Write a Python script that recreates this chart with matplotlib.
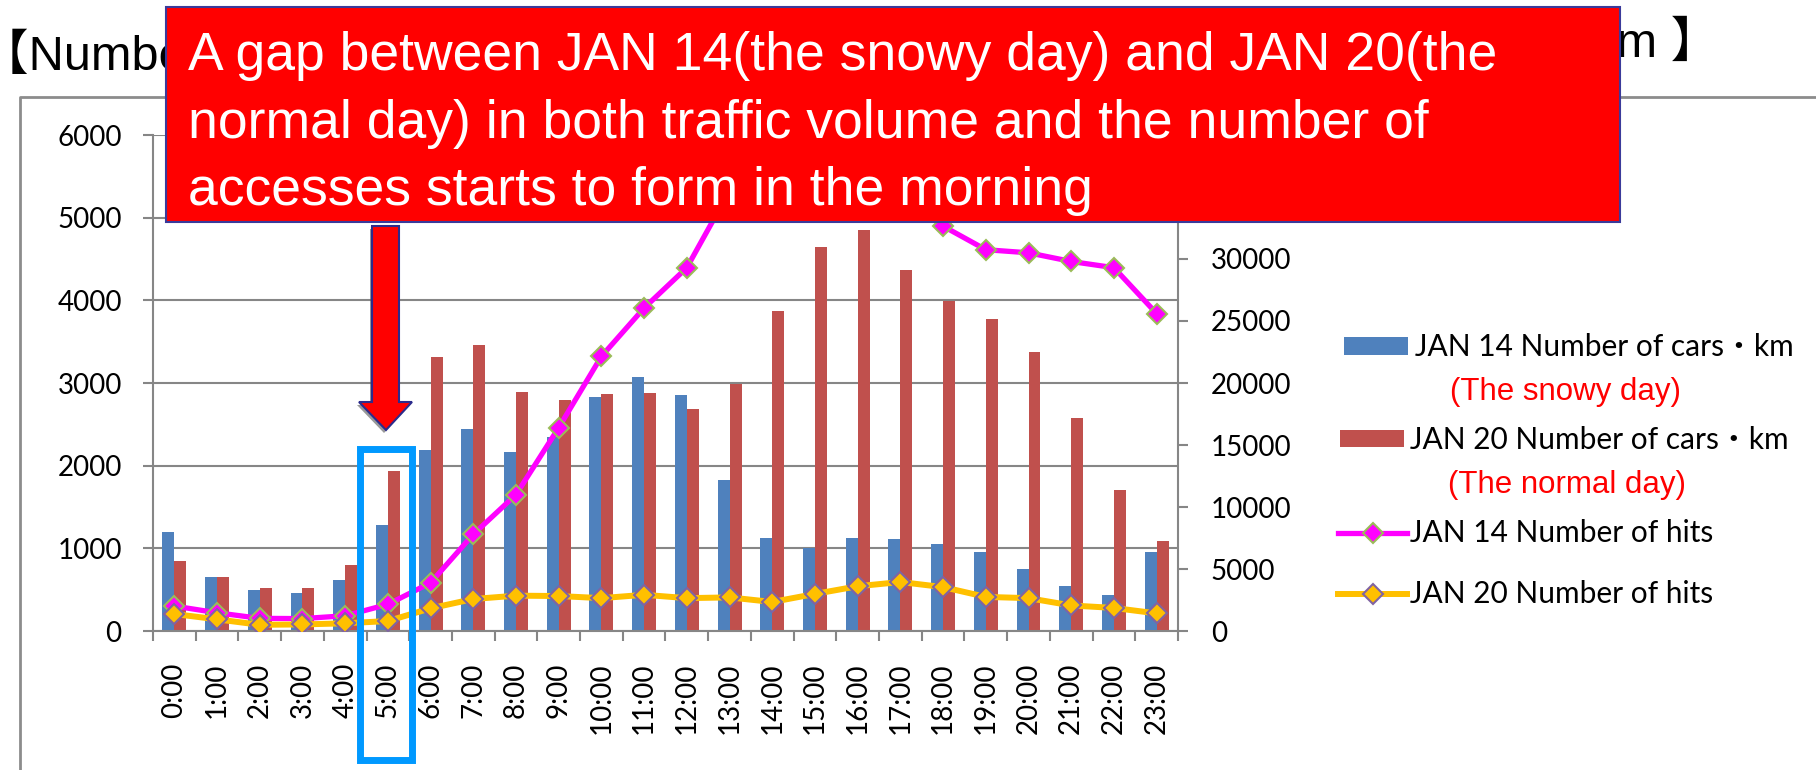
import matplotlib
matplotlib.use("Agg")
import matplotlib.pyplot as plt
from matplotlib.patches import Rectangle, Polygon
from matplotlib.lines import Line2D
import numpy as np

# hourly data, JAN 14 (snowy day) vs JAN 20 (normal day)
hours = [f"{h}:00" for h in range(24)]
cars_jan14 = [1200, 650, 490, 455, 620, 1280, 2195, 2440, 2165, 2350, 2835, 3070,
              2860, 1830, 1130, 1000, 1130, 1115, 1050, 960, 745, 540, 435, 960]
cars_jan20 = [845, 650, 520, 520, 795, 1940, 3310, 3465, 2890, 2800, 2870, 2875,
              2685, 2990, 3865, 4640, 4850, 4370, 3990, 3780, 3370, 2575, 1705, 1090]
hits_jan14 = [2010, 1470, 1020, 1000, 1230, 2150, 3890, 7800, 11000, 16400, 22150, 26050,
              29300, 35500, 37500, 38500, 38000, 35500, 32650, 30750, 30500, 29800, 29300, 25600]
hits_jan20 = [1370, 940, 500, 530, 620, 805, 1830, 2580, 2850, 2820, 2650, 2920,
              2650, 2710, 2340, 2990, 3610, 3950, 3540, 2750, 2650, 2060, 1860, 1420]

W, H = 1816, 770
GRAY = "#868686"
LATIN = ["Liberation Sans", "Noto Sans CJK JP"]


def fx(px):
    return px / W


def fy(px):
    return 1 - px / H


plt.rcParams["font.family"] = ["Lato", "Noto Sans CJK JP"]
plt.rcParams["font.size"] = 20

fig = plt.figure(figsize=(W / 100, H / 100), dpi=100)
ax = fig.add_axes([fx(153), fy(631), fx(1178) - fx(153), fy(135) - fy(631)])
ax2 = ax.twinx()

x = np.arange(len(hours))
bw = 0.28
ax.bar(x - bw / 2, cars_jan14, bw, color="#4F81BD", zorder=2)
ax.bar(x + bw / 2, cars_jan20, bw, color="#C0504D", zorder=2)
ax.set_xlim(-0.5, 23.5)
ax.set_ylim(0, 6000)
ax.set_yticks(range(0, 6001, 1000))
ax.yaxis.grid(True, color=GRAY, lw=1.5)
ax.set_axisbelow(True)

ax.set_xticks(x, hours, rotation=90, va="top", ha="center")
ax.set_xticks(np.arange(-0.5, 24, 1), minor=True)
ax.tick_params(axis="x", which="major", length=0, pad=23)
ax.tick_params(axis="x", which="minor", length=7.5, width=1.5, color=GRAY)
ax.tick_params(axis="y", length=7.5, width=1.5, color=GRAY, pad=15)

ax2.plot(x, hits_jan14, color="#FF00FF", lw=3.8, marker="D", ms=10,
         mfc="#FF00FF", mec="#9BBB59", mew=1.5)
ax2.plot(x, hits_jan20, color="#FFC000", lw=4.3, marker="D", ms=10,
         mfc="#FFC000", mec="#8064A2", mew=1.5)
ax2.set_ylim(0, 40000)
ax2.set_yticks(range(0, 40001, 5000))
ax2.tick_params(axis="y", length=7.5, width=1.5, color=GRAY, pad=16)

for s in ["top", "right"]:
    ax.spines[s].set_visible(False)
for s in ["top", "left", "bottom"]:
    ax2.spines[s].set_visible(False)
for sp in [ax.spines["left"], ax.spines["bottom"], ax2.spines["right"]]:
    sp.set_color(GRAY)
    sp.set_linewidth(1.5)

# chart area border
fig.add_artist(Line2D([fx(20), fx(20), 1], [0, fy(97), fy(97)], color="#8C8C8C", lw=2))

# title (mostly covered by the callout)
fig.text(fx(-20), fy(70), "【Number of hits and traffic", family=LATIN,
         fontsize=35, va="baseline", zorder=1)
fig.text(fx(1719), fy(57), "(Number of cars・km 】", family=LATIN,
         fontsize=35, va="baseline", ha="right", zorder=1)

# red callout box
fig.add_artist(Rectangle((fx(166), fy(222)), fx(1620) - fx(166), (222 - 7) / H,
                         facecolor="#FF0000", edgecolor="#3A3A9A", lw=1.5, zorder=10))
fig.text(fx(188), fy(31),
         "A gap between JAN 14(the snowy day) and JAN 20(the\n"
         "normal day) in both traffic volume and the number of\n"
         "accesses starts to form in the morning",
         family=LATIN, fontsize=38.5, color="white", va="top", linespacing=1.45, zorder=11)

# arrow pointing to 5:00
arrow_pts = [(372, 226), (399, 226), (399, 402), (412, 402), (386, 430), (359, 402), (372, 402)]
shadow = Polygon([(fx(px - 2), fy(py + 3)) for px, py in arrow_pts], closed=True,
                 facecolor="#555555", edgecolor="none", alpha=0.6, zorder=9)
fig.add_artist(shadow)
fig.add_artist(Polygon([(fx(px), fy(py)) for px, py in arrow_pts], closed=True,
                       facecolor="#FF0000", edgecolor="#2B2B8C", lw=1.5, zorder=10))

# highlight box around 5:00
fig.add_artist(Rectangle((fx(359.5), fy(760)), fx(411.5) - fx(359.5), (760 - 448.7) / H,
                         fill=False, edgecolor="#0099FF", lw=5, zorder=9))

# legend
fig.add_artist(Rectangle((fx(1344), fy(355)), fx(1408) - fx(1344), 18 / H,
                         facecolor="#4F81BD", edgecolor="none"))
fig.text(fx(1415), fy(347), "JAN 14 Number of cars・km", va="center", fontsize=21.5)
fig.text(fx(1450), fy(392), "(The snowy day)", va="center", color="#FF0000",
         family=LATIN, fontsize=22.5)
fig.add_artist(Rectangle((fx(1340), fy(447)), fx(1404) - fx(1340), 17 / H,
                         facecolor="#C0504D", edgecolor="none"))
fig.text(fx(1410), fy(440), "JAN 20 Number of cars・km", va="center", fontsize=21.5)
fig.text(fx(1448), fy(485), "(The normal day)", va="center", color="#FF0000",
         family=LATIN, fontsize=22.5)
fig.add_artist(Line2D([fx(1338), fx(1407)], [fy(533), fy(533)], color="#FF00FF", lw=3.8))
fig.add_artist(Line2D([fx(1373)], [fy(533)], marker="D", ms=10, mfc="#FF00FF",
                      mec="#9BBB59", mew=1.5))
fig.text(fx(1410), fy(533), "JAN 14 Number of hits", va="center", fontsize=21.5)
fig.add_artist(Line2D([fx(1338), fx(1407)], [fy(594), fy(594)], color="#FFC000", lw=4.3))
fig.add_artist(Line2D([fx(1373)], [fy(594)], marker="D", ms=10, mfc="#FFC000",
                      mec="#8064A2", mew=1.5))
fig.text(fx(1410), fy(594), "JAN 20 Number of hits", va="center", fontsize=21.5)

fig.savefig("out.png", dpi=100)
